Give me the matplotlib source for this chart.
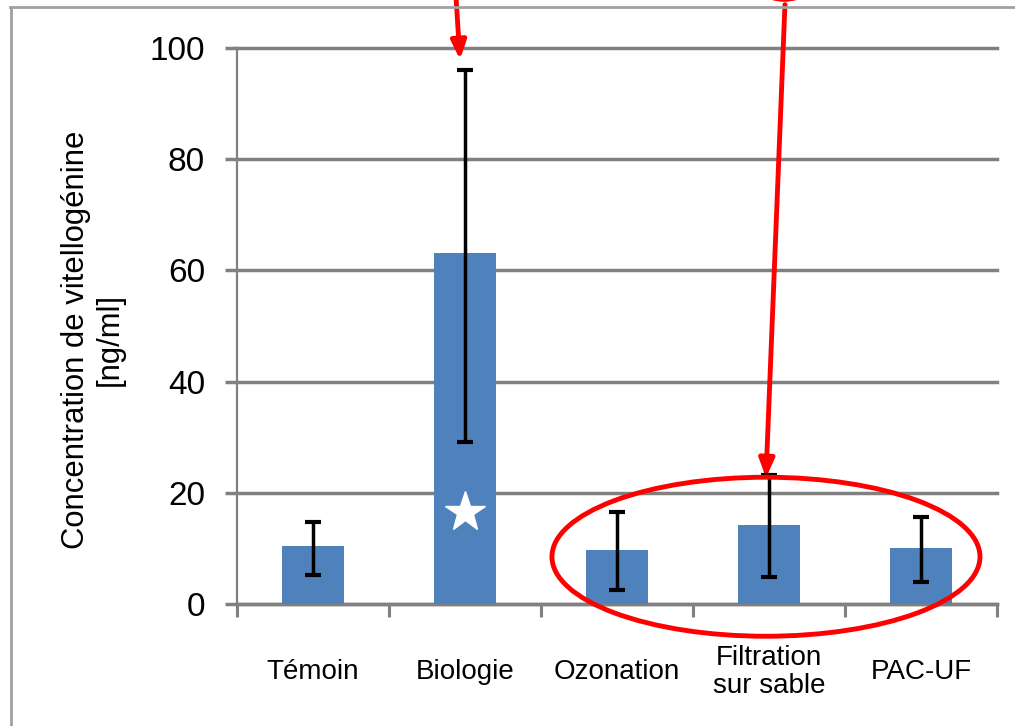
import matplotlib
matplotlib.use("Agg")
import matplotlib.pyplot as plt
from matplotlib.patches import Ellipse
from matplotlib.lines import Line2D
import numpy as np

# donnees
categories = ["Témoin", "Biologie", "Ozonation", "Filtration\nsur sable", "PAC-UF"]
moyennes = [10.5, 63.2, 9.7, 14.2, 10.0]
err_haut = [14.8, 96.0, 16.5, 23.2, 15.6]   # extremite haute des barres d'erreur
err_bas = [5.2, 29.2, 2.5, 4.8, 4.0]        # extremite basse
y_ticks = [0, 20, 40, 60, 80, 100]

bleu = "#4F81BD"
gris = "#808080"
rouge = "#FF0000"

plt.rcParams['font.family'] = ['Liberation Sans', 'DejaVu Sans']

fig = plt.figure(figsize=(10.15, 7.26), dpi=100)
ax = fig.add_axes([237/1015, 122/726, 760/1015, 556/726])

x = np.arange(len(categories))
moy = np.array(moyennes)
yerr = np.array([moy - np.array(err_bas), np.array(err_haut) - moy])

ax.bar(x, moy, width=0.41, color=bleu, zorder=3)
ax.errorbar(x, moy, yerr=yerr, fmt='none', ecolor='black', elinewidth=2.5,
            capsize=6, capthick=3, zorder=4)

# etoile blanche sur Biologie
ax.plot([1], [16.5], marker='*', color='white', markersize=30, zorder=5)

ax.set_xlim(-0.5, 4.5)
ax.set_ylim(0, 100)
ax.set_yticks(y_ticks)
ax.set_yticklabels([str(v) for v in y_ticks], fontsize=24)
ax.set_xticks(np.arange(-0.5, 5, 1))
ax.set_xticklabels([])
ax.tick_params(axis='y', length=9, width=2.5, color=gris, pad=14, direction='out')
ax.tick_params(axis='x', length=9, width=2.2, color=gris, direction='out')

for v in y_ticks:
    ax.axhline(v, color=gris, lw=2.5, zorder=1, clip_on=False)

for s in ['top', 'right']:
    ax.spines[s].set_visible(False)
ax.spines['left'].set_color(gris)
ax.spines['left'].set_linewidth(1.6)
ax.spines['bottom'].set_color(gris)
ax.spines['bottom'].set_linewidth(2.5)

for i, c in enumerate(categories):
    ax.text(i, -12.2, c, ha='center', va='center', fontsize=20,
            linespacing=1.1, clip_on=False)

ax.set_ylabel("Concentration de vitellogénine\n[ng/ml]", fontsize=22.3,
              linespacing=1.15)
ax.yaxis.set_label_coords(-0.148, 0.475)

# annotations rouges
ax.annotate("", xy=(0.967, 97.9), xytext=(0.94, 109.5), annotation_clip=False,
            arrowprops=dict(arrowstyle='-|>,head_length=1.1,head_width=0.45',
                            color=rouge, lw=3.5, shrinkA=0, shrinkB=0))
ax.annotate("", xy=(2.98, 22.7), xytext=(3.105, 107.8), annotation_clip=False,
            arrowprops=dict(arrowstyle='-|>,head_length=1.1,head_width=0.45',
                            color=rouge, lw=3.5, shrinkA=0, shrinkB=0))
ax.add_patch(Ellipse((2.98, 8.5), 2.816, 28.6, fill=False, edgecolor=rouge,
                     lw=3.5, clip_on=False, zorder=6))
ax.add_patch(Ellipse((3.1, 113.5), 0.43, 9.5, fill=False, edgecolor=rouge,
                     lw=3.5, clip_on=False, zorder=6))

# cadre gris autour du graphique
fig.add_artist(Line2D([10.5/1015, 10.5/1015], [0, 1 - 7/726], color='#A0A0A0', lw=2,
                      transform=fig.transFigure))
fig.add_artist(Line2D([10/1015, 1], [1 - 7/726, 1 - 7/726], color='#A0A0A0', lw=2,
                      transform=fig.transFigure))

fig.savefig("out.png", dpi=100)
